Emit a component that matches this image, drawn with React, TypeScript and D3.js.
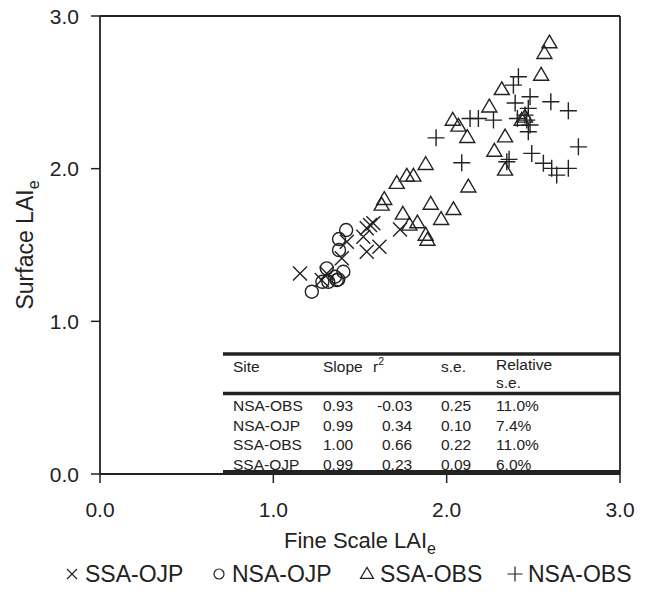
import React from "react";
import * as d3 from "d3";

// ---------- data ----------
const ssaOjpX = [1.154, 1.558, 1.577, 1.539, 1.731, 1.519, 1.424, 1.539, 1.612, 1.395, 1.308, 1.279];
const ssaOjpY = [1.314, 1.631, 1.642, 1.609, 1.602, 1.554, 1.521, 1.456, 1.489, 1.413, 1.314, 1.270];

const nsaOjpX = [1.420, 1.379, 1.379, 1.404, 1.308, 1.356, 1.375, 1.317, 1.283, 1.222, 1.366];
const nsaOjpY = [1.598, 1.539, 1.467, 1.325, 1.347, 1.292, 1.275, 1.259, 1.259, 1.194, 1.270];

const ssaObsX = [2.593, 2.564, 2.545, 2.318, 2.246, 2.035, 2.068, 2.119, 2.337, 2.275, 2.337, 1.879, 2.433, 2.452,
  2.125, 1.770, 1.808, 1.712, 1.640, 1.625, 1.908, 2.039, 1.968, 1.747, 1.785, 1.831, 1.879, 1.889];
const ssaObsY = [2.825, 2.755, 2.613, 2.519, 2.405, 2.318, 2.279, 2.205, 2.209, 2.115, 1.991, 2.028, 2.318, 2.338,
  1.881, 1.952, 1.952, 1.904, 1.799, 1.762, 1.768, 1.733, 1.668, 1.703, 1.631, 1.646, 1.565, 1.532];

const nsaObsX = [2.414, 2.385, 2.481, 2.395, 2.601, 2.702, 2.135, 2.183, 2.270, 2.452, 2.471, 2.462, 2.481,
  2.471, 2.408, 1.939, 2.760, 2.087, 2.360, 2.347, 2.491, 2.558, 2.606, 2.702, 2.635];
const nsaObsY = [2.602, 2.547, 2.471, 2.430, 2.438, 2.379, 2.329, 2.329, 2.318, 2.351, 2.395, 2.318, 2.286,
  2.242, 2.329, 2.202, 2.143, 2.039, 2.061, 2.045, 2.100, 2.035, 2.002, 2.002, 1.958];

const tickValues = [0, 1, 2, 3];

const tableHeader = ["Site", "Slope", "r", "s.e.", "Relative"];
const tableSites = ["NSA-OBS", "NSA-OJP", "SSA-OBS", "SSA-OJP"];
const tableSlopes = ["0.93", "0.99", "1.00", "0.99"];
const tableR2 = ["-0.03", "0.34", "0.66", "0.23"];
const tableSE = ["0.25", "0.10", "0.22", "0.09"];
const tableRel = ["11.0%", "7.4%", "11.0%", "6.0%"];

const legendLabels = ["SSA-OJP", "NSA-OJP", "SSA-OBS", "NSA-OBS"];

// ---------- layout ----------
const W = 645, H = 594;
const L = 100, R = 620, T = 16, B = 474;
const FONT = "'Liberation Sans', Arial, Helvetica, sans-serif";
const INK = "#222";

const x = d3.scaleLinear().domain([0, 3]).range([L, R]);
const y = d3.scaleLinear().domain([0, 3]).range([B, T]);

type Shape = "x" | "o" | "t" | "p";

function markerPath(shape: Shape, cx: number, cy: number, s: number): string {
  const p = d3.path();
  if (shape === "x") {
    p.moveTo(cx - s, cy - s); p.lineTo(cx + s, cy + s);
    p.moveTo(cx - s, cy + s); p.lineTo(cx + s, cy - s);
  } else if (shape === "p") {
    p.moveTo(cx - s, cy); p.lineTo(cx + s, cy);
    p.moveTo(cx, cy - s); p.lineTo(cx, cy + s);
  } else if (shape === "t") {
    const h = s * 1.7;
    p.moveTo(cx, cy - h * 0.6);
    p.lineTo(cx + s, cy + h * 0.4);
    p.lineTo(cx - s, cy + h * 0.4);
    p.closePath();
  } else {
    p.moveTo(cx + s, cy);
    p.arc(cx, cy, s, 0, Math.PI * 2);
  }
  return p.toString();
}

const series: { shape: Shape; xs: number[]; ys: number[]; size: number }[] = [
  { shape: "t", xs: ssaObsX, ys: ssaObsY, size: 7.5 },
  { shape: "p", xs: nsaObsX, ys: nsaObsY, size: 8.5 },
  { shape: "x", xs: ssaOjpX, ys: ssaOjpY, size: 7 },
  { shape: "o", xs: nsaOjpX, ys: nsaOjpY, size: 6.5 },
];

export default function App() {
  const fmt = d3.format(".1f");
  const colX = [233, 323, 373, 441, 496];
  const rowY = [406, 425.5, 445, 464.5];
  const legendShapes: Shape[] = ["x", "o", "t", "p"];
  const legendSym = [72, 219, 367, 515];
  const legendSizes = [5, 5, 6.5, 7.5];
  return (
    <svg width={W} height={H} style={{ position: "absolute", left: 0, top: 0, background: "#fff" }}
      fontFamily={FONT}>
      <rect x={0} y={0} width={W} height={H} fill="#fff" />

      {/* table rules */}
      <line x1={223} x2={R} y1={354} y2={354} stroke={INK} strokeWidth={3.5} />
      <line x1={223} x2={R} y1={393.5} y2={393.5} stroke={INK} strokeWidth={3.5} />
      <line x1={223} x2={R} y1={472} y2={472} stroke={INK} strokeWidth={4} />

      {/* frame */}
      <line x1={L} x2={R} y1={T} y2={T} stroke={INK} strokeWidth={1.8} />
      <line x1={R} x2={R} y1={T} y2={B} stroke={INK} strokeWidth={1.8} />
      <line x1={L} x2={L} y1={T} y2={B} stroke={INK} strokeWidth={1.8} />
      <line x1={L} x2={R} y1={B} y2={B} stroke={INK} strokeWidth={1.8} />

      {tickValues.map((v) => (
        <g key={"xt" + v}>
          <line x1={x(v)} x2={x(v)} y1={B} y2={B + 9} stroke={INK} strokeWidth={1.5} />
          <text x={x(v)} y={517} textAnchor="middle" fontSize={21} fill={INK}>{fmt(v)}</text>
        </g>
      ))}
      {tickValues.map((v) => (
        <g key={"yt" + v}>
          <line x1={L - 9} x2={L} y1={y(v)} y2={y(v)} stroke={INK} strokeWidth={1.5} />
          <text x={L - 21} y={y(v)} dy="0.36em" textAnchor="end" fontSize={21} fill={INK}>{fmt(v)}</text>
        </g>
      ))}

      {/* axis titles */}
      <text x={(L + R) / 2} y={548} textAnchor="middle" fontSize={22} fill={INK}>
        Fine Scale LAI<tspan fontSize={16} dy={6}>e</tspan>
      </text>
      <text transform={`translate(33, ${(T + B) / 2}) rotate(-90)`} textAnchor="middle" fontSize={23} fill={INK}>
        Surface LAI<tspan fontSize={16} dy={6}>e</tspan>
      </text>

      {/* data */}
      {series.map((s, si) => (
        <g key={"s" + si}>
          {s.xs.map((xv, i) => (
            <path key={i} d={markerPath(s.shape, x(xv), y(s.ys[i]), s.size)} fill="none"
              stroke={INK} strokeWidth={1.4} />
          ))}
        </g>
      ))}

      {/* table text */}
      <g fontSize={15.5} fill={INK}>
        <text x={colX[0]} y={367} dy="0.35em">{tableHeader[0]}</text>
        <text x={colX[1]} y={367} dy="0.35em">{tableHeader[1]}</text>
        <text x={colX[2]} y={367} dy="0.35em">{tableHeader[2]}<tspan fontSize={10.5} dy={-7}>2</tspan></text>
        <text x={colX[3]} y={367} dy="0.35em">{tableHeader[3]}</text>
        <text x={colX[4]} y={365} dy="0.35em">{tableHeader[4]}</text>
        <text x={colX[4]} y={383} dy="0.35em">s.e.</text>
        {tableSites.map((site, i) => (
          <g key={site}>
            <text x={colX[0]} y={rowY[i]} dy="0.35em">{site}</text>
            <text x={colX[1]} y={rowY[i]} dy="0.35em">{tableSlopes[i]}</text>
            <text x={tableR2[i].startsWith("-") ? colX[2] + 4 : colX[2] + 9} y={rowY[i]} dy="0.35em">{tableR2[i]}</text>
            <text x={colX[3]} y={rowY[i]} dy="0.35em">{tableSE[i]}</text>
            <text x={colX[4]} y={rowY[i]} dy="0.35em">{tableRel[i]}</text>
          </g>
        ))}
      </g>

      {/* legend */}
      {legendLabels.map((lab, i) => (
        <g key={lab}>
          <path d={markerPath(legendShapes[i], legendSym[i], 574, legendSizes[i])} fill="none"
            stroke={INK} strokeWidth={1.2} />
          <text x={legendSym[i] + 13} y={574} dy="0.36em" fontSize={23} fill={INK}>{lab}</text>
        </g>
      ))}
    </svg>
  );
}
